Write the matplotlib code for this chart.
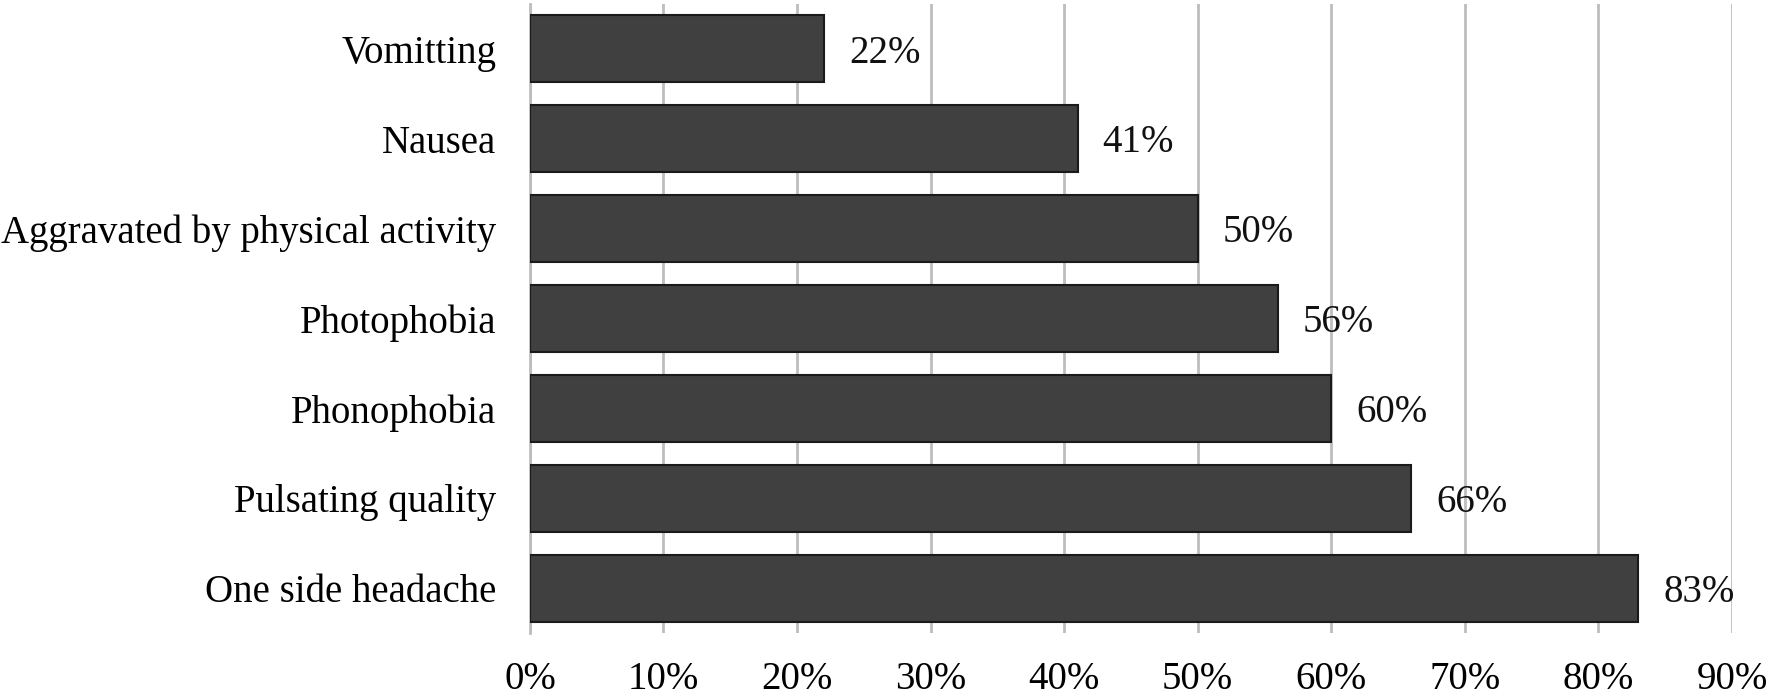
import matplotlib
matplotlib.use("Agg")
import matplotlib.pyplot as plt

# data
symptoms = ["One side headache", "Pulsating quality", "Phonophobia", "Photophobia",
            "Aggravated by physical activity", "Nausea", "Vomitting"]
percent = [83, 66, 60, 56, 50, 41, 22]
ticks = [0, 10, 20, 30, 40, 50, 60, 70, 80, 90]
tick_labels = ["0%", "10%", "20%", "30%", "40%", "50%", "60%", "70%", "80%", "90%"]

plt.rcParams['font.family'] = ['Liberation Serif', 'DejaVu Serif']

fig = plt.figure(figsize=(17.7, 6.97), dpi=100)
ax = fig.add_axes([0.2994, 0.0918, 0.6791, 0.9025])

ypos = list(range(len(symptoms)))
bars = ax.barh(ypos, percent, height=0.745, color="#404040",
               edgecolor="#1a1a1a", linewidth=1.5, zorder=3)

for y, v in zip(ypos, percent):
    ax.annotate(f"{v}%", xy=(v, y), xytext=(18, -3), textcoords="offset points",
                ha="left", va="center", fontsize=28, color="#111111")

ax.set_xlim(0, 90)
ax.set_ylim(-0.5, 6.5)
ax.set_xticks(ticks)
ax.set_xticklabels(tick_labels, fontsize=28)
ax.set_yticks(ypos)
ax.set_yticklabels(symptoms, fontsize=28)
ax.tick_params(axis='x', length=0, pad=20)
ax.tick_params(axis='y', length=0, pad=24)

ax.grid(axis='x', color="#bdbdbd", linewidth=2, zorder=0)
ax.set_axisbelow(True)
for s in ["top", "right", "bottom"]:
    ax.spines[s].set_visible(False)
ax.spines["left"].set_color("#bdbdbd")
ax.spines["left"].set_linewidth(2)

fig.savefig("out.png", dpi=100)
